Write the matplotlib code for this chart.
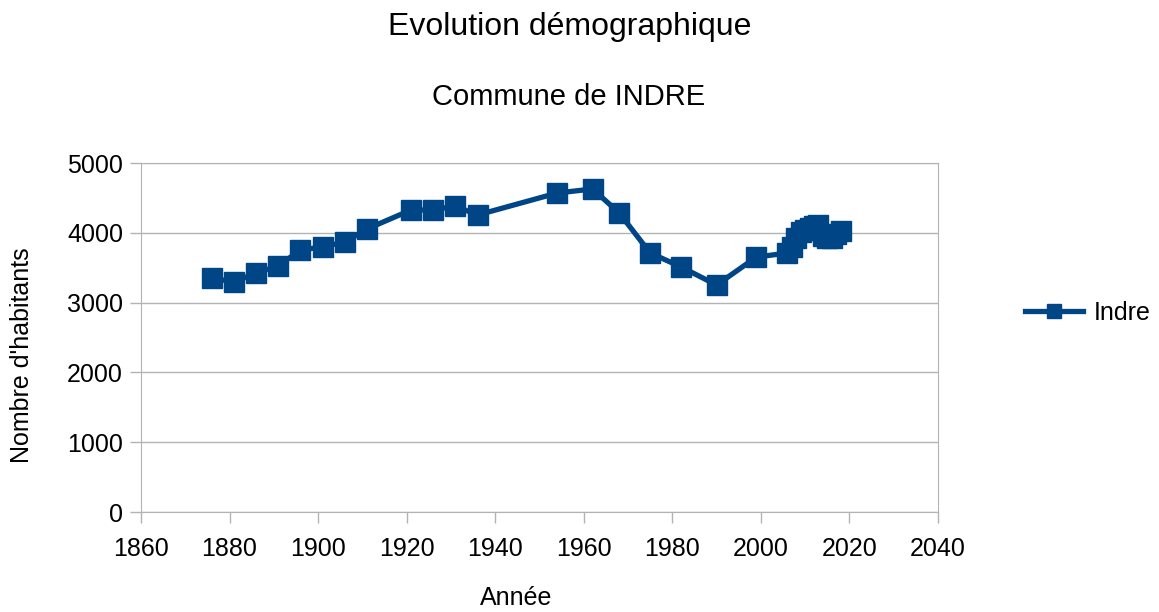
import matplotlib
matplotlib.use("Agg")
import matplotlib.pyplot as plt

years = [1876, 1881, 1886, 1891, 1896, 1901, 1906, 1911, 1921, 1926, 1931, 1936,
         1954, 1962, 1968, 1975, 1982, 1990, 1999, 2006, 2007, 2008, 2009, 2010,
         2011, 2012, 2013, 2014, 2015, 2016, 2017, 2018]
population = [3352, 3295, 3424, 3524, 3754, 3797, 3868, 4054, 4327, 4327, 4384, 4255,
              4570, 4628, 4284, 3711, 3510, 3252, 3653, 3710, 3800, 3920, 4010, 4040,
              4070, 4100, 4110, 3960, 3930, 3920, 3980, 4030]
x_ticks = [1860, 1880, 1900, 1920, 1940, 1960, 1980, 2000, 2020, 2040]
y_ticks = [0, 1000, 2000, 3000, 4000, 5000]

plt.rcParams['font.family'] = ['Liberation Sans', 'DejaVu Sans']
W, H = 1159, 612
fig = plt.figure(figsize=(W/100, H/100), dpi=100)
ax = fig.add_axes([141/W, 1 - 512/H, (938-141)/W, (512-163)/H])

color = '#004586'
ax.plot(years, population, color=color, linewidth=3.8, marker='s', markersize=14,
        label='Indre', zorder=3)

ax.set_xlim(1860, 2040)
ax.set_ylim(0, 5000)
ax.set_xticks(x_ticks)
ax.set_yticks(y_ticks)
ax.tick_params(labelsize=18, color='#b3b3b3', length=8, width=1)
ax.tick_params(axis='x', pad=10)
ax.tick_params(axis='y', pad=5)
ax.yaxis.grid(True, color='#b3b3b3', linewidth=1)
ax.set_axisbelow(True)
for s in ax.spines.values():
    s.set_color('#b3b3b3')

fig.text(516/W, 1 - 598/H, 'Année', ha='center', va='center', fontsize=18)
fig.text(22/W, 1 - 355/H, "Nombre d'habitants", ha='center', va='center',
         rotation=90, fontsize=18)

fig.text(570/W, 1 - 27/H, 'Evolution démographique', ha='center', va='center', fontsize=23)
fig.text(569/W, 1 - 97/H, 'Commune de INDRE', ha='center', va='center', fontsize=21)

leg = ax.legend(loc='center left', bbox_to_anchor=(1025/W, 1 - 313/H),
                bbox_transform=fig.transFigure, frameon=False, borderpad=0,
                borderaxespad=0, fontsize=18, handlelength=2.3, handletextpad=0.45,
                markerscale=0.75)

fig.savefig('out.png', dpi=100)
